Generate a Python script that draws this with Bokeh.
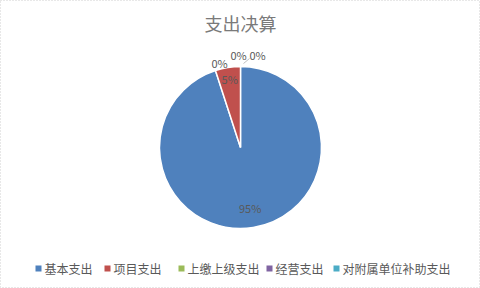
import math
from bokeh.plotting import figure
from bokeh.models import Range1d, ColumnDataSource
from bokeh.core.properties import value
from bokeh.embed import file_html
from bokeh.resources import INLINE

# ---- data ----
title = "支出决算"
categories = ["基本支出", "项目支出", "上缴上级支出", "经营支出", "对附属单位补助支出"]
values = [95, 5, 0, 0, 0]
colors = ["#4F81BD", "#C0504D", "#9BBB59", "#8064A2", "#4BACC6"]

# ---- layout ----
W, H = 480, 288
CX, CY, R = 240, 288 - 147, 81
FONT = "Noto Sans CJK SC"
TXT = "#595959"

p = figure(width=W, height=H, output_backend="svg", toolbar_location=None,
           x_range=Range1d(0, W), y_range=Range1d(0, H), min_border=0)
p.axis.visible = False
p.grid.visible = False
p.background_fill_color = "white"
p.border_fill_color = "white"
p.outline_line_color = "#d0d0d0"
p.outline_line_dash = "1 2"

total = sum(values)
starts, ends = [], []
a = math.pi / 2
for v in values:
    span = 2 * math.pi * v / total
    starts.append(a)
    ends.append(a - span)
    a -= span

keep = [i for i, v in enumerate(values) if v > 0]
src = ColumnDataSource(dict(start=[starts[i] for i in keep], end=[ends[i] for i in keep],
                            color=[colors[i] for i in keep]))
p.wedge(x=CX, y=CY, radius=R, start_angle="start", end_angle="end", direction="clock",
        fill_color="color", line_color="white", line_width=1.5, source=src)

# percentage labels
lx, ly, lt = [], [], []
zero_offsets = [(-21, 85), (-2, 93), (17, 93)]
zi = 0
for v, s, e in zip(values, starts, ends):
    pct = f"{round(100 * v / total)}%"
    if v > 0:
        m = (s + e) / 2
        f = 0.76 if v / total > 0.5 else 0.85
        lx.append(CX + f * R * math.cos(m))
        ly.append(CY + f * R * math.sin(m))
    else:
        dx, dy = zero_offsets[zi]
        zi += 1
        lx.append(CX + dx)
        ly.append(CY + dy)
    lt.append(pct)
p.text(x=lx, y=ly, text=lt, text_align="center", text_baseline="middle",
       text_font=value(FONT), text_font_size="11px", text_color=TXT)
# small leader line for the last zero label
p.line(x=[CX + 9, CX + 3], y=[CY + 89, CY + 84], line_color="#bfbfbf", line_width=1)

# title
p.text(x=[W / 2], y=[H - 22], text=[title], text_align="center", text_baseline="middle",
       text_font=value(FONT), text_font_size="18px", text_color="#7a7a7a")

# legend
leg_x = [38, 107, 181, 269, 336]
leg_y = H - 268
p.scatter(x=leg_x, y=[leg_y] * len(leg_x), marker="square", size=6,
          fill_color=colors, line_color=None)
p.text(x=[x + 6 for x in leg_x], y=[leg_y] * len(leg_x), text=categories,
       text_align="left", text_baseline="middle",
       text_font=value(FONT), text_font_size="12px", text_color=TXT)

open("out.html", "w").write(file_html(p, INLINE))
